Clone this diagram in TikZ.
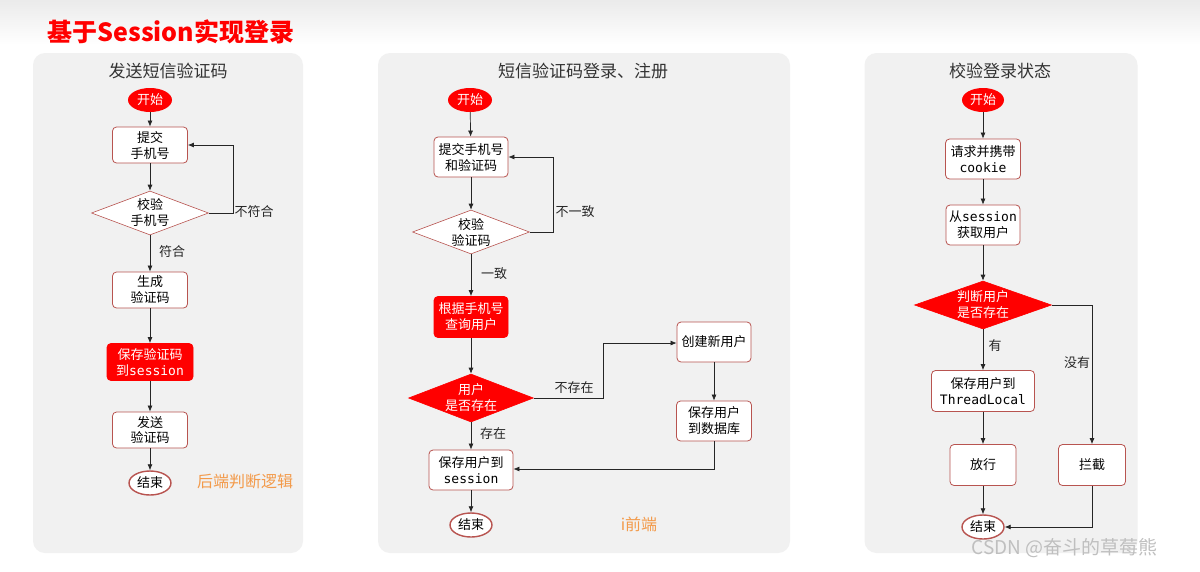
\documentclass[tikz,border=0pt]{standalone}
\usepackage{fontspec}
\setmainfont{Noto Sans CJK SC}
\newfontfamily\mono{DejaVu Sans Mono}
\usetikzlibrary{shapes.geometric,arrows.meta}
\definecolor{bord}{HTML}{B85450}
\definecolor{panelbg}{HTML}{F1F1F1}
\definecolor{ored}{HTML}{FF0000}
\definecolor{orng}{HTML}{F39A4A}
\begin{document}
\begin{tikzpicture}[x=1pt,y=-1pt,
  panel/.style={fill=panelbg,draw=none,rounded corners=12pt},
  ptitle/.style={font=\fontsize{17}{19}\selectfont,text=black!80},
  box/.style={draw=bord,fill=white,rounded corners=4pt,line width=0.8pt,minimum height=40pt,align=center,font=\fontsize{13}{16}\selectfont,inner sep=1pt},
  rbox/.style={box,fill=ored,draw=ored,text=white},
  dia/.style={diamond,aspect=2.6,draw=bord,fill=white,line width=0.6pt,align=center,font=\fontsize{13}{16}\selectfont,inner sep=0pt},
  rdia/.style={dia,fill=ored,draw=ored,text=white},
  st/.style={ellipse,fill=ored,text=white,minimum width=44pt,minimum height=24pt,inner sep=0pt,font=\fontsize{13}{14}\selectfont},
  en/.style={ellipse,fill=white,draw=bord,line width=1.4pt,minimum width=42pt,minimum height=24pt,inner sep=0pt,font=\fontsize{13}{14}\selectfont},
  lab/.style={font=\fontsize{13}{15}\selectfont,text=black!85},
  note/.style={font=\fontsize{16}{18}\selectfont,text=orng},
  arr/.style={-{Latex[length=6pt,width=5pt]},line width=0.7pt,black!85}]
\useasboundingbox (0,0) rectangle (1200,571);
\fill[white] (0,0) rectangle (1200,571);
\shade[top color=black!8,bottom color=white] (0,0) rectangle (1200,45);
\node[font=\bfseries\fontsize{25}{27}\selectfont,text=ored,anchor=west] (title) at (44,32) {基于Session实现登录};
% panels
\node[panel,minimum width=270pt,minimum height=500pt] (p1) at (168,303) {};
\node[panel,minimum width=412pt,minimum height=500pt] (p2) at (584,303) {};
\node[panel,minimum width=273pt,minimum height=500pt] (p3) at (1001,303) {};
% ---------- panel 1
\node[ptitle] (t1) at (168,71) {发送短信验证码};
\node[st] (a0) at (150,100) {开始};
\node[box,minimum width=75pt,minimum height=36pt] (a1) at (150,145) {提交\\手机号};
\node[dia,minimum width=117pt,minimum height=44pt] (a2) at (150,213) {校验\\手机号};
\node[box,minimum width=75pt,minimum height=36pt] (a3) at (150,290) {生成\\验证码};
\node[rbox,minimum width=86pt,minimum height=37pt] (a4) at (150,362) {保存验证码\\到{\mono session}};
\node[box,minimum width=75pt,minimum height=36pt] (a5) at (150,430) {发送\\验证码};
\node[en] (a6) at (150,483) {结束};
\node[note] (n1) at (245,481) {后端判断逻辑};
\coordinate (c1) at (233,213);
\coordinate (c2) at (233,145);
\draw[arr] (a0)--(a1);
\draw[arr] (a1)--(a2);
\draw[arr] (a2.east)--(c1)--(c2)--(a1.east);
\node[lab] (l1) at (254,212) {不符合};
\draw[arr] (a2)--(a3);
\node[lab] (l2) at (172,252) {符合};
\draw[arr] (a3)--(a4);
\draw[arr] (a4)--(a5);
\draw[arr] (a5)--(a6);
% ---------- panel 2
\node[ptitle] (t2) at (583,71) {短信验证码登录、注册};
\node[st] (b0) at (470,100) {开始};
\node[box,minimum width=74pt] (b1) at (471,157) {提交手机号\\和验证码};
\node[dia,minimum width=117pt,minimum height=44pt] (b2) at (471,232) {校验\\验证码};
\node[rbox,minimum width=74pt,minimum height=41pt] (b3) at (471,317) {根据手机号\\查询用户};
\node[rdia,minimum width=117pt,minimum height=46pt] (b4) at (471,398) {用户\\是否存在};
\node[box,minimum width=74pt] (b5) at (714,342) {创建新用户};
\node[box,minimum width=75pt] (b6) at (714,421) {保存用户\\到数据库};
\node[box,minimum width=84pt] (b7) at (471,470) {保存用户到\\{\mono session}};
\node[en] (b8) at (471,525) {结束};
\node[note] (n2) at (639,524) {i前端};
\coordinate (d1) at (553,232);
\coordinate (d2) at (553,157);
\coordinate (d3) at (603,398);
\coordinate (d4) at (603,343);
\coordinate (d5) at (714,469);
\draw[arr] (b0)--(b1);
\draw[arr] (b1)--(b2);
\draw[arr] (b2.east)--(d1)--(d2)--(b1.east);
\node[lab] (l3) at (575,212) {不一致};
\draw[arr] (b2)--(b3);
\node[lab] (l4) at (494,274) {一致};
\draw[arr] (b3)--(b4);
\draw[arr] (b4.east)--(d3)--(d4)--(b5.west|-d4);
\node[lab] (l5) at (574,388) {不存在};
\draw[arr] (b5)--(b6);
\draw[arr] (b6.south)--(d5)--(b7.east|-d5);
\draw[arr] (b4)--(b7);
\node[lab] (l6) at (493,434) {存在};
\draw[arr] (b7)--(b8);
% ---------- panel 3
\node[ptitle] (t3) at (1000,71) {校验登录状态};
\node[st,minimum width=42pt] (e0) at (983,100) {开始};
\node[box,minimum width=75pt] (e1) at (983,159) {请求并携带\\{\mono cookie}};
\node[box,minimum width=74pt] (e2) at (983,225) {从{\mono session}\\获取用户};
\node[rdia,minimum width=137pt,minimum height=48pt] (e3) at (983,305) {判断用户\\是否存在};
\node[box,minimum width=103pt,minimum height=41pt] (e4) at (983,391) {保存用户到\\{\mono ThreadLocal}};
\node[box,minimum width=66pt,minimum height=41pt] (e5) at (983,465) {放行};
\node[box,minimum width=67pt,minimum height=41pt] (e6) at (1092,465) {拦截};
\node[en] (e7) at (983,527) {结束};
\coordinate (f1) at (1092,305);
\coordinate (f2) at (1092,527);
\draw[arr] (e0)--(e1);
\draw[arr] (e1)--(e2);
\draw[arr] (e2)--(e3);
\draw[arr] (e3)--(e4);
\node[lab] (l7) at (995,346) {有};
\draw[arr] (e3.east)--(f1)--(e6.north);
\node[lab] (l8) at (1077,363) {没有};
\draw[arr] (e4)--(e5);
\draw[arr] (e5)--(e7);
\draw[arr] (e6.south)--(f2)--(e7.east);
\node[font=\fontsize{19}{21}\selectfont,text=black!25,anchor=west] (wm) at (968,548) {CSDN @奋斗的草莓熊};
\end{tikzpicture}
\end{document}
